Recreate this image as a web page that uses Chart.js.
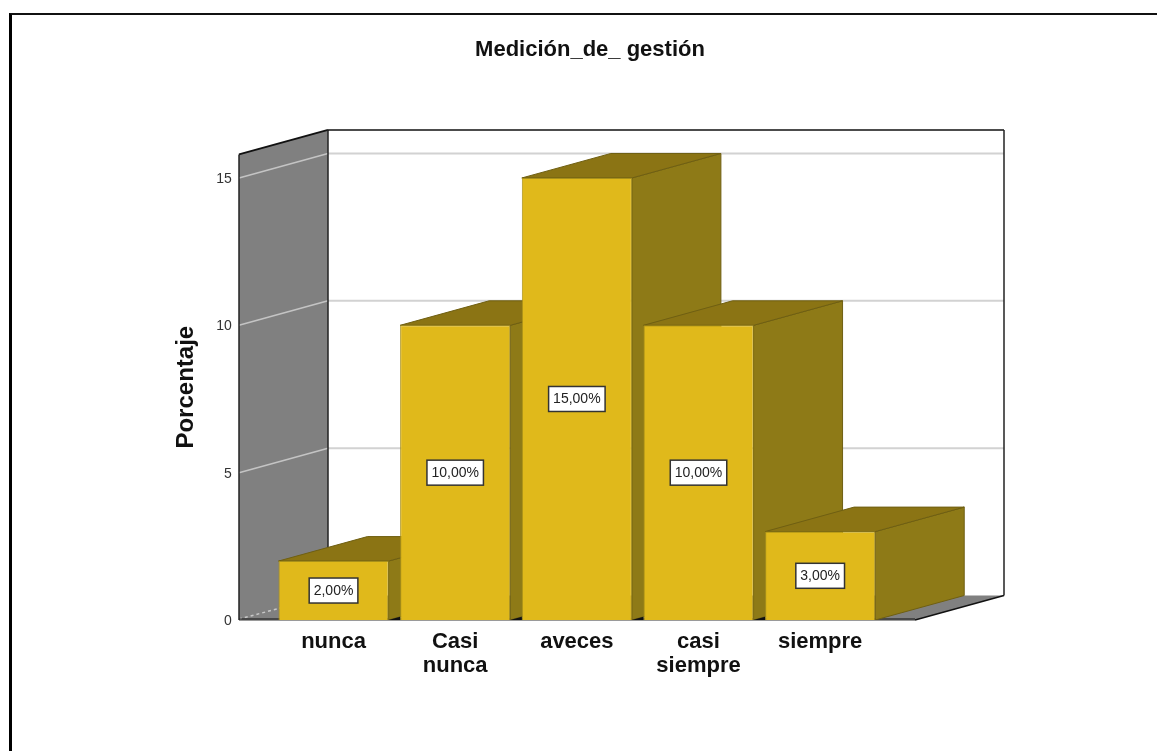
<!DOCTYPE html>
<html>
<head>
<meta charset="utf-8">
<title>Medición de gestión</title>
<script src="https://cdn.jsdelivr.net/npm/chart.js@4/dist/chart.umd.min.js"></script>
<style>
  html, body { margin: 0; padding: 0; background: #fff; overflow: hidden; }
  #frame { position: absolute; left: 9px; top: 13px; right: 0; bottom: 0; border-left: 3px solid #000; border-top: 2px solid #111; }
  #chart { position: absolute; left: 0; top: 0; display: block; }
</style>
</head>
<body>
<div id="frame"></div>
<canvas id="chart" width="1157" height="751"></canvas>
<script>
// Data
const categories = ['nunca', ['Casi', 'nunca'], 'aveces', ['casi', 'siempre'], 'siempre'];
const percentages = [2, 10, 15, 10, 3];
const yMax = 15.8;
const yStep = 5;

// 3D look
const depthX = 89;
const depthY = 24.5;
const wallLeft = 33.7;   // how far the floor sticks out on each side of the category band
const wallRight = 34;

const labelFont = '"Liberation Sans", Arial, sans-serif';

function poly(ctx, pts, fill, stroke) {
  ctx.beginPath();
  pts.forEach((p, i) => (i ? ctx.lineTo(p[0], p[1]) : ctx.moveTo(p[0], p[1])));
  ctx.closePath();
  ctx.fillStyle = fill;
  ctx.fill();
  if (stroke) {
    ctx.strokeStyle = stroke;
    ctx.lineWidth = 1;
    ctx.stroke();
  }
}

function line(ctx, x1, y1, x2, y2, color, width) {
  ctx.beginPath();
  ctx.moveTo(x1, y1);
  ctx.lineTo(x2, y2);
  ctx.strokeStyle = color;
  ctx.lineWidth = width;
  ctx.stroke();
}

// Draws the walls, the floor and the side and top faces of the bars
const box3d = {
  id: 'box3d',
  beforeDatasetsDraw(chart) {
    const { ctx, chartArea, scales } = chart;
    const y = scales.y;
    const x0 = chartArea.left - wallLeft;
    const x1 = chartArea.right + wallRight;
    const top = chartArea.top;
    const bottom = y.getPixelForValue(0);
    ctx.save();

    // left wall and floor
    poly(ctx, [[x0, top], [x0 + depthX, top - depthY], [x0 + depthX, bottom], [x0, bottom]], '#808080');
    ctx.fillStyle = '#fff';
    ctx.fillRect(x0 + depthX + 1, top - depthY, x1 - x0 - 1, bottom - top);
    poly(ctx, [[x0, bottom], [x1, bottom], [x1 + depthX, bottom - depthY], [x0 + depthX, bottom - depthY]], '#808080');

    // grid lines
    y.ticks.forEach(t => {
      const py = y.getPixelForValue(t.value);
      if (t.value === 0) {
        ctx.setLineDash([3, 3]);
        line(ctx, x0, py - 1, x0 + depthX, py - depthY, '#c8c8c8', 1.5);
        ctx.setLineDash([]);
        return;
      }
      line(ctx, x0, py, x0 + depthX, py - depthY, '#c4c4c4', 1.5);
      line(ctx, x0 + depthX, py - depthY, x1 + depthX, py - depthY, '#d2d2d2', 2);
    });

    // wall outlines
    line(ctx, x0, bottom, x0, top, '#222', 1.5);
    line(ctx, x0, top, x0 + depthX, top - depthY, '#111', 2);
    line(ctx, x0 + depthX, top - depthY, x0 + depthX, bottom - depthY, '#222', 1.5);
    line(ctx, x0 + depthX, top - depthY, x1 + depthX, top - depthY, '#111', 1.5);
    line(ctx, x1 + depthX, top - depthY, x1 + depthX, bottom - depthY, '#222', 1.5);
    line(ctx, x1, bottom, x1 + depthX, bottom - depthY, '#111', 1.5);
    line(ctx, x0, bottom - 1, x1, bottom - 1, '#111', 1);

    // side and top of every bar, left to right so later ones cover earlier ones
    const bars = chart.getDatasetMeta(0).data;
    bars.forEach((bar, i) => {
      const half = bar.width / 2;
      const l = bar.x - half;
      const r = bar.x + half;
      poly(ctx, [[r, bar.y], [r + depthX, bar.y - depthY], [r + depthX, bottom - depthY], [r, bottom]], '#8E7A17', '#6f5f12');
      poly(ctx, [[l, bar.y], [l + depthX, bar.y - depthY], [r + depthX, bar.y - depthY], [r, bar.y]], '#8B7414', '#6f5f12');
      if (i < bars.length - 1) {
        const nextLeft = bars[i + 1].x - half;
        poly(ctx, [[r, bottom], [nextLeft, bottom], [nextLeft, bottom - (nextLeft - r) * depthY / depthX]], '#111');
      }
    });
    ctx.restore();
  },
  afterDatasetsDraw(chart) {
    const { ctx, scales } = chart;
    const y = scales.y;
    ctx.save();
    // axis base line in front of the bars
    line(ctx, chart.chartArea.left - wallLeft, y.getPixelForValue(0) + 0.5, chart.chartArea.right + wallRight, y.getPixelForValue(0) + 0.5, '#9a9a9a', 1);

    // value boxes in the middle of the front faces
    ctx.font = '14px ' + labelFont;
    ctx.textAlign = 'center';
    ctx.textBaseline = 'middle';
    chart.getDatasetMeta(0).data.forEach((bar, i) => {
      const text = percentages[i].toFixed(2).replace('.', ',') + '%';
      const cy = y.getPixelForValue(percentages[i] / 2);
      const w = ctx.measureText(text).width + 9;
      const h = 25;
      ctx.fillStyle = '#fff';
      ctx.fillRect(bar.x - w / 2, cy - h / 2, w, h);
      ctx.strokeStyle = '#333';
      ctx.lineWidth = 1.5;
      ctx.strokeRect(bar.x - w / 2, cy - h / 2, w, h);
      ctx.fillStyle = '#222';
      ctx.fillText(text, bar.x, cy + 0.5);
    });
    ctx.restore();
  }
};

new Chart(document.getElementById('chart'), {
  type: 'bar',
  data: {
    labels: categories,
    datasets: [{
      data: percentages,
      backgroundColor: '#E0B91B',
      borderColor: '#a8901a',
      borderWidth: 1,
      categoryPercentage: 1,
      barPercentage: 0.905
    }]
  },
  plugins: [box3d],
  options: {
    responsive: false,
    animation: false,
    layout: { padding: { left: 23, right: 0, top: 0, bottom: 0 } },
    plugins: {
      legend: { display: false },
      tooltip: { enabled: false },
      title: {
        display: true,
        text: 'Medición_de_ gestión',
        color: '#111',
        font: { family: labelFont, size: 22, weight: 'bold', lineHeight: 1.2 },
        padding: { top: 37, bottom: 91 }
      }
    },
    scales: {
      x: {
        grid: { display: false },
        border: { display: false },
        ticks: {
          color: '#111',
          font: { family: labelFont, size: 22, weight: 'bold', lineHeight: 1.09 },
          padding: 2,
          maxRotation: 0,
          autoSkip: false
        },
        afterFit(scale) { scale.height = 131; }
      },
      y: {
        min: 0,
        max: yMax,
        grid: { display: false, drawTicks: false },
        border: { display: false },
        title: {
          display: true,
          text: 'Porcentaje',
          color: '#111',
          font: { family: labelFont, size: 24, weight: 'bold', lineHeight: 1.2 },
          padding: { top: 149, bottom: 0 }
        },
        ticks: {
          stepSize: yStep,
          includeBounds: false,
          color: '#333',
          font: { family: labelFont, size: 14 },
          padding: 41,
          labelOffset: 1
        },
        afterFit(scale) { scale.width = 249.7; }
      },
      // empty axis, only keeps room on the right so the title stays centred on the page
      yRight: {
        position: 'right',
        grid: { display: false, drawTicks: false },
        border: { display: false },
        ticks: { display: false },
        afterFit(scale) { scale.width = 276; }
      }
    }
  }
});
</script>
</body>
</html>
